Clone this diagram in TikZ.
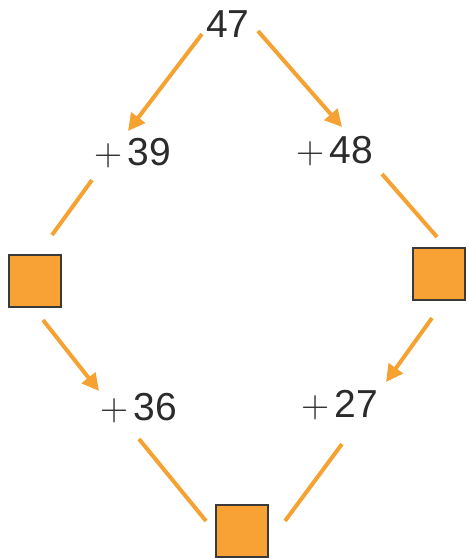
\documentclass[tikz,border=0pt]{standalone}
\usepackage{fontspec}
\newfontfamily\numfont{Liberation Sans}
\usetikzlibrary{arrows.meta}
\definecolor{org}{HTML}{F6A232}
\definecolor{boxfill}{HTML}{F8A236}
\definecolor{boxline}{HTML}{3A3A3A}
\definecolor{ink}{HTML}{2B2B2B}
% thin plus sign from Latin Modern, digits in a sans face
\newcommand{\pl}{{\normalfont\fontsize{39}{39}\selectfont +}\hspace{5pt}}
\tikzset{
  numtext/.style={inner sep=0pt, anchor=base, text=ink, font=\numfont\fontsize{39}{39}\selectfont},
  blankbox/.style={draw=boxline, line width=2pt, fill=boxfill, minimum size=52pt, inner sep=0pt},
  arr/.style={draw=org, line width=4pt, -{Triangle[length=17pt,width=17pt]}},
  seg/.style={draw=org, line width=4pt}
}
\begin{document}
\begin{tikzpicture}[x=1pt,y=-1pt]
\useasboundingbox (0,0) rectangle (467,558);
% numbers
\node[numtext] (n47) at (228,37) {47};
\node[numtext] (n39) at (133,165) {\pl 39};
\node[numtext] (n48) at (335,163) {\pl 48};
\node[numtext] (n36) at (139,420) {\pl 36};
\node[numtext] (n27) at (340,417) {\pl 27};
% boxes
\node[blankbox] (bl) at (34.5,281) {};
\node[blankbox] (br) at (439,273.5) {};
\node[blankbox] (bb) at (242,530.5) {};
% connector endpoints
\coordinate (a1) at (202,34);
\coordinate (a1t) at (128,131);
\coordinate (a2) at (258,31);
\coordinate (a2t) at (342,127);
\coordinate (l1) at (92,180);
\coordinate (l1e) at (52,235);
\coordinate (l2) at (382,174);
\coordinate (l2e) at (437,237);
\coordinate (a3) at (43,320);
\coordinate (a3t) at (99,391);
\coordinate (a4) at (432,318);
\coordinate (a4t) at (386,382);
\coordinate (l3) at (139,439);
\coordinate (l3e) at (206,521);
\coordinate (l4) at (342,444);
\coordinate (l4e) at (285,521);
% connectors
\draw[arr] (a1) -- (a1t);
\draw[arr] (a2) -- (a2t);
\draw[seg] (l1) -- (l1e);
\draw[seg] (l2) -- (l2e);
\draw[arr] (a3) -- (a3t);
\draw[arr] (a4) -- (a4t);
\draw[seg] (l3) -- (l3e);
\draw[seg] (l4) -- (l4e);
\end{tikzpicture}
\end{document}
